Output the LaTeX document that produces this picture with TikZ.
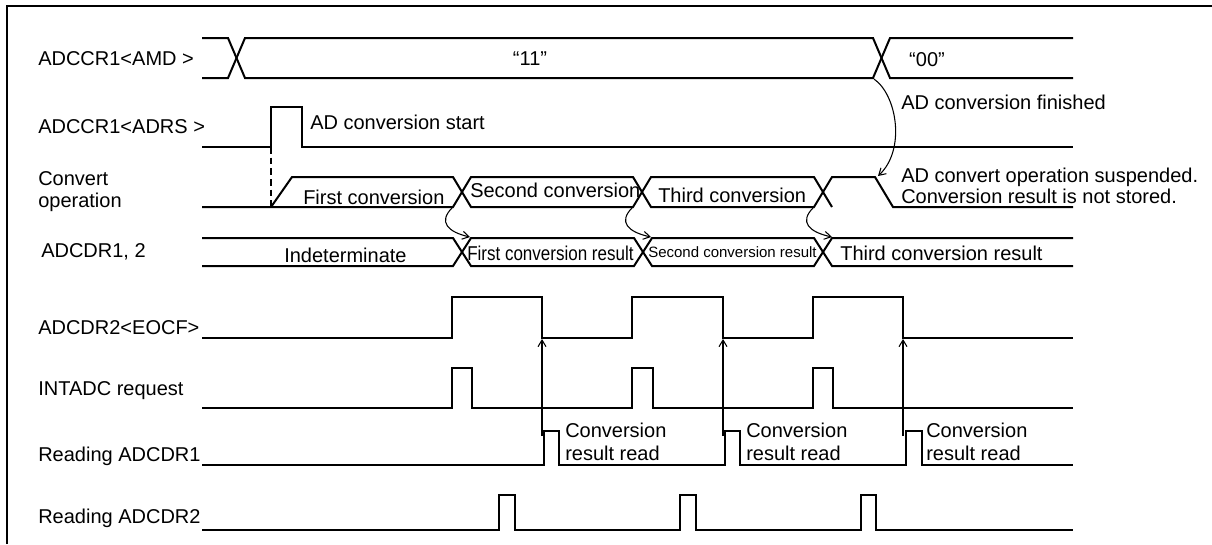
\documentclass[tikz,border=0pt]{standalone}
\usepackage{fontspec}
\setmainfont{Liberation Sans}
\usetikzlibrary{arrows.meta}
\tikzset{
  sig/.style={line width=1.5pt, line join=miter},
  lbl/.style={anchor=base west, inner sep=0pt, font=\fontsize{15}{17}\selectfont},
  ctr/.style={anchor=base, inner sep=0pt, font=\fontsize{15}{17}\selectfont},
  conn/.style={line width=0.8pt, -{Straight Barb[length=5pt,width=6pt]}},
  frame/.style={line width=1.5pt}
}
\begin{document}
\begin{tikzpicture}[x=0.75pt,y=-0.75pt]
\useasboundingbox (0,0) rectangle (1212,544);
% frame
\draw[frame] (7,544) -- (7,6) -- (1212,6);

% left labels
\node[lbl] (lamd)  at (38,65)  {ADCCR1<AMD >};
\node[lbl] (ladrs) at (38,133) {ADCCR1<ADRS >};
\node[lbl] (lconv) at (38,185) {Convert};
\node[lbl] (lconv2) at (38,207) {operation};
\node[lbl] (ldr)   at (41,257) {ADCDR1, 2};
\node[lbl] (leocf) at (38,334) {ADCDR2<EOCF>};
\node[lbl] (lint)  at (38,395) {INTADC request};
\node[lbl] (lrd1)  at (38,461) {Reading ADCDR1};
\node[lbl] (lrd2)  at (38,523) {Reading ADCDR2};

% ADCCR1<AMD>
\draw[sig] (202,38) -- (228,38) -- (245,78) -- (873,78) -- (890,38) -- (1073,38);
\draw[sig] (202,78) -- (228,78) -- (245,38) -- (873,38) -- (890,78) -- (1073,78);
\node[ctr] (t11) at (530,65) {“11”};
\node[ctr] (t00) at (927,66) {“00”};

% ADCCR1<ADRS>
\draw[sig] (202,147) -- (271,147) -- (271,107) -- (302,107) -- (302,147) -- (1073,147);
\node[lbl] (tstart) at (310,129) {AD conversion start};
\draw[line width=1pt, dashed, dash pattern=on 5pt off 3pt] (271,147) -- (271,207);

% Convert operation
\draw[sig] (202,207) -- (453,207) -- (471,177) -- (633,177) -- (651,207) -- (814,207) -- (832,177) -- (875,177) -- (893,207) -- (1073,207);
\draw[sig] (271,207) -- (292,177) -- (453,177) -- (471,207) -- (633,207) -- (651,177) -- (814,177) -- (832,207);
\node[lbl] (tc1) at (303,204) {First conversion};
\node[lbl] (tc2) at (470,197) {Second conversion};
\node[lbl] (tc3) at (658,202) {Third conversion};

% ADCDR1, 2
\draw[sig] (202,238) -- (453,238) -- (471,266) -- (634,266) -- (652,238) -- (814,238) -- (832,266) -- (1073,266);
\draw[sig] (202,266) -- (453,266) -- (471,238) -- (634,238) -- (652,266) -- (814,266) -- (832,238) -- (1073,238);
\node[lbl] (tind) at (284,262) {Indeterminate};
\node[lbl] (tr1) at (467,260) {\scalebox{0.85}[1]{First conversion result}};
\node[lbl, font=\fontsize{11.25}{13}\selectfont] (tr2) at (648,257) {Second conversion result};
\node[lbl] (tr3) at (840,260) {Third conversion result};

% ADCDR2<EOCF>
\draw[sig] (202,338) -- (452,338) -- (452,297) -- (542,297) -- (542,338) -- (632,338) -- (632,297) -- (723,297) -- (723,338) -- (813,338) -- (813,297) -- (903,297) -- (903,338) -- (1073,338);

% INTADC request
\draw[sig] (202,408) -- (452,408) -- (452,368) -- (472,368) -- (472,408) -- (632,408) -- (632,368) -- (653,368) -- (653,408) -- (813,408) -- (813,368) -- (833,368) -- (833,408) -- (1073,408);

% Reading ADCDR1
\draw[sig] (202,465) -- (544,465) -- (544,431) -- (559,431) -- (559,465) -- (725,465) -- (725,431) -- (740,431) -- (740,465) -- (906,465) -- (906,431) -- (922,431) -- (922,465) -- (1073,465);
\node[lbl] (tcr1a) at (565,437) {Conversion};
\node[lbl] (tcr1b) at (565,460) {result read};
\node[lbl] (tcr2a) at (746,437) {Conversion};
\node[lbl] (tcr2b) at (746,460) {result read};
\node[lbl] (tcr3a) at (926,437) {Conversion};
\node[lbl] (tcr3b) at (926,460) {result read};

% Reading ADCDR2
\draw[sig] (202,530) -- (499,530) -- (499,495) -- (515,495) -- (515,530) -- (680,530) -- (680,495) -- (696,495) -- (696,530) -- (861,530) -- (861,495) -- (876,495) -- (876,530) -- (1073,530);

% annotations on the right
\node[lbl] (tfin) at (901,109) {AD conversion finished};
\node[lbl] (tsus1) at (901,182) {AD convert operation suspended.};
\node[lbl] (tsus2) at (901,203) {Conversion result is not stored.};

% connectors
\coordinate (amdx) at (874,79);
\coordinate (susp) at (878,176);
\draw[conn] (amdx) .. controls (897,95) and (906,150) .. (susp);

\coordinate (cx1) at (452,208);
\coordinate (rx1) at (470,237);
\coordinate (cx2) at (632,208);
\coordinate (rx2) at (651,237);
\coordinate (cx3) at (813,208);
\coordinate (rx3) at (832,237);
\draw[conn] (cx1) .. controls (438,222) and (448,232) .. (rx1);
\draw[conn] (cx2) .. controls (618,222) and (628,232) .. (rx2);
\draw[conn] (cx3) .. controls (799,222) and (809,232) .. (rx3);

\coordinate (rd1) at (542,436);
\coordinate (eo1) at (542,339);
\coordinate (rd2) at (723,436);
\coordinate (eo2) at (723,339);
\coordinate (rd3) at (903,436);
\coordinate (eo3) at (903,339);
\draw[conn] (rd1) -- (eo1);
\draw[conn] (rd2) -- (eo2);
\draw[conn] (rd3) -- (eo3);
\end{tikzpicture}
\end{document}
